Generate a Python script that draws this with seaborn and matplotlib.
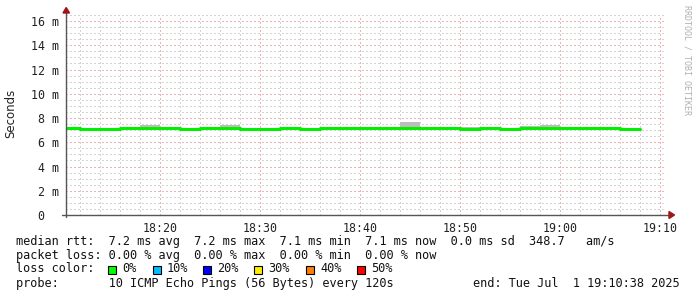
import numpy as np
import pandas as pd
import matplotlib
matplotlib.use("Agg")
import matplotlib.pyplot as plt
import matplotlib.dates as mdates
from matplotlib.patches import Rectangle, Polygon
from matplotlib.lines import Line2D
import seaborn as sns

# ---------------- data ----------------
step_start = pd.date_range("2025-07-01 18:10", "2025-07-01 19:06", freq="2min")
median_ms = [7.15, 7.10, 7.10, 7.15, 7.20, 7.15, 7.10, 7.15, 7.20, 7.10,
             7.10, 7.15, 7.10, 7.15, 7.15, 7.15, 7.15, 7.15, 7.15, 7.15,
             7.10, 7.15, 7.10, 7.15, 7.20, 7.15, 7.15, 7.15, 7.10]
smoke_lo_ms = [7.10, 7.05, 7.05, 7.10, 7.15, 7.10, 7.00, 7.10, 7.15, 7.05,
               7.05, 7.10, 7.05, 7.10, 7.10, 7.10, 7.10, 7.10, 7.10, 7.10,
               7.05, 7.10, 7.05, 7.10, 7.15, 7.10, 7.10, 7.10, 7.05]
smoke_hi_ms = [7.20, 7.15, 7.15, 7.20, 7.45, 7.30, 7.15, 7.20, 7.45, 7.15,
               7.15, 7.20, 7.15, 7.20, 7.20, 7.20, 7.20, 7.65, 7.20, 7.20,
               7.30, 7.20, 7.15, 7.35, 7.40, 7.20, 7.30, 7.30, 7.15]
step_end = "2025-07-01 19:08"
x_start, x_end = "2025-07-01 18:10:38", "2025-07-01 19:10:38"

y_ticks = [0, 2, 4, 6, 8, 10, 12, 14, 16]
y_tick_labels = ["0\u00a0\u00a0", "2 m", "4 m", "6 m", "8 m", "10 m", "12 m", "14 m", "16 m"]
x_tick_labels = ["18:20", "18:30", "18:40", "18:50", "19:00", "19:10"]

line_rtt = "median rtt:  7.2 ms avg  7.2 ms max  7.1 ms min  7.1 ms now  0.0 ms sd  348.7   am/s"
line_loss = "packet loss: 0.00 % avg  0.00 % max  0.00 % min  0.00 % now"
line_lc = "loss color:"
loss_labels = ["0%", "10%", "20%", "30%", "40%", "50%"]
loss_colors = ["#00ff00", "#00bfff", "#0000ff", "#ffee00", "#ff7f00", "#ff0000"]
line_probe = "probe:       10 ICMP Echo Pings (56 Bytes) every 120s"
line_end = "end: Tue Jul  1 19:10:38 2025"
watermark = "RRDTOOL / TOBI OETIKER"

# ---------------- figure ----------------
sns.set_style("white")
plt.rcParams["font.family"] = ["DejaVu Sans Mono", "DejaVu Sans"]
W, H = 697, 297
fig = plt.figure(figsize=(W / 100, H / 100), dpi=100)
fig.patch.set_facecolor("white")
ax = fig.add_axes([66 / W, 82 / H, 600 / W, 200 / H])
ax.set_facecolor("white")

df = pd.DataFrame({"time": list(step_start) + [pd.Timestamp(step_end)],
                   "median": median_ms + [median_ms[-1]],
                   "lo": smoke_lo_ms + [smoke_lo_ms[-1]],
                   "hi": smoke_hi_ms + [smoke_hi_ms[-1]]})

ax.fill_between(df["time"], df["lo"], df["hi"], step="post", color="#bdbdbd", lw=0, zorder=2)
sns.lineplot(data=df, x="time", y="median", ax=ax, drawstyle="steps-post",
             color="#00f000", lw=2.2, zorder=3, legend=False)

ax.set_xlim(pd.Timestamp(x_start), pd.Timestamp(x_end))
ax.set_ylim(0, 16.5)
ax.set_xlabel("")
ax.set_ylabel("")

ax.xaxis.set_major_locator(mdates.MinuteLocator(byminute=range(0, 60, 10)))
ax.xaxis.set_minor_locator(mdates.MinuteLocator(byminute=range(0, 60, 2)))
ax.xaxis.set_major_formatter(mdates.DateFormatter("%H:%M"))
ax.set_yticks(y_ticks)
ax.set_yticklabels(y_tick_labels)
ax.set_yticks(np.arange(0, 16.6, 0.5), minor=True)

ax.grid(which="minor", color="#d4d4d4", lw=1.0, ls=(0, (1, 1.5)), zorder=1, antialiased=False)
ax.grid(which="major", color="#eab4b4", lw=1.0, ls=(0, (1, 1.5)), zorder=1, antialiased=False)
ax.set_axisbelow(True)

for s in ax.spines.values():
    s.set_visible(False)
ax.tick_params(axis="both", which="both", length=0, labelsize=8.4, colors="#222222")
ax.tick_params(axis="y", pad=5)
ax.tick_params(axis="x", pad=5)

axc = "#555555"
ax.add_line(Line2D([0, 0], [-0.01, 1.025], transform=ax.transAxes, color=axc, lw=1.0, clip_on=False, zorder=5))
ax.add_line(Line2D([-0.006, 1.008], [0, 0], transform=ax.transAxes, color=axc, lw=1.0, clip_on=False, zorder=5))
tr = fig.transFigure
ax_arrow_col = "#a01515"
fig.patches.append(Polygon([[63 / W, 1 - 13 / H], [69.5 / W, 1 - 13 / H], [66.2 / W, 1 - 7.5 / H]],
                           closed=True, transform=tr, color=ax_arrow_col, zorder=6))
fig.patches.append(Polygon([[669 / W, 1 - 211.5 / H], [669 / W, 1 - 218.5 / H], [674.5 / W, 1 - 215 / H]],
                           closed=True, transform=tr, color=ax_arrow_col, zorder=6))

fig.text(11 / W, 1 - 113 / H, "Seconds", rotation=90, ha="center", va="center",
         fontsize=8.5, family="DejaVu Sans", color="#222222")
fig.text(687 / W, 1 - 5 / H, watermark, rotation=270, ha="center", va="top",
         fontsize=6, color="#b0b0b0")

fs = 8.55
tcol = "#111111"
fig.text(16 / W, 1 - 241 / H, line_rtt, ha="left", va="center", fontsize=fs, color=tcol)
fig.text(16 / W, 1 - 255 / H, line_loss, ha="left", va="center", fontsize=fs, color=tcol)
fig.text(16 / W, 1 - 269 / H, line_lc, ha="left", va="center", fontsize=fs, color=tcol)
sq_x = [108, 153, 203, 254, 306, 357]
for x0, lab, col in zip(sq_x, loss_labels, loss_colors):
    fig.patches.append(Rectangle((x0 / W, 1 - 273.5 / H), 8 / W, 8 / H, transform=tr,
                                 facecolor=col, edgecolor="black", lw=0.8))
    fig.text((x0 + 14) / W, 1 - 269 / H, lab, ha="left", va="center", fontsize=fs, color=tcol)
fig.text(16 / W, 1 - 283.5 / H, line_probe, ha="left", va="center", fontsize=fs, color=tcol)
fig.text(680 / W, 1 - 283.5 / H, line_end, ha="right", va="center", fontsize=fs, color=tcol)

fig.savefig("out.png", dpi=100, facecolor="white")
